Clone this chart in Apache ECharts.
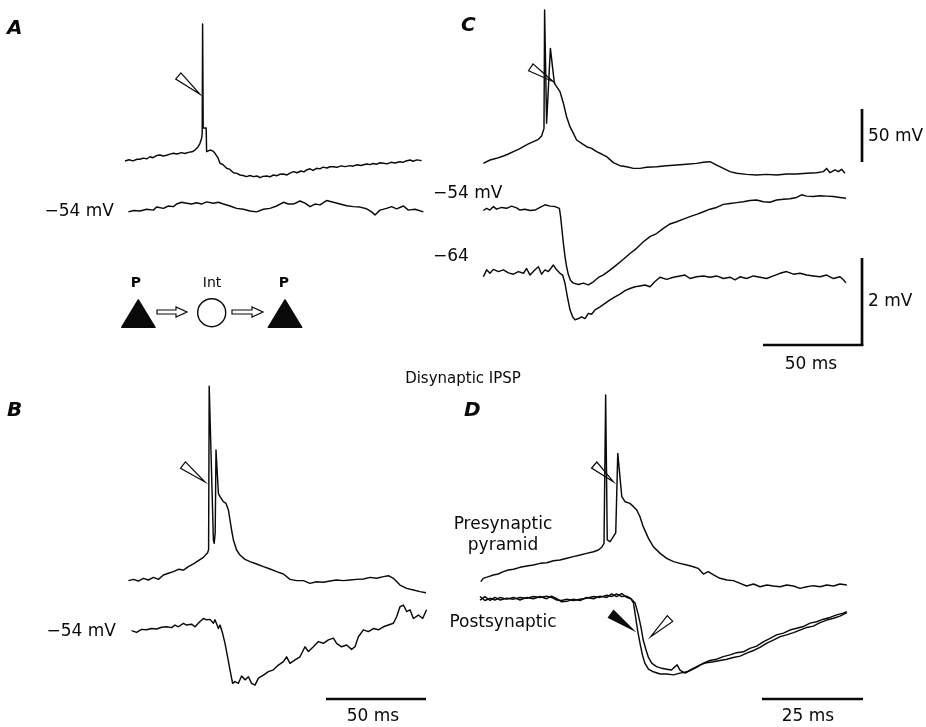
<!DOCTYPE html>
<html><head><meta charset="utf-8">
<script src="https://cdn.jsdelivr.net/npm/echarts@6/dist/echarts.min.js"></script>
<style>html,body{margin:0;padding:0;background:#fff}#c{width:926px;height:727px}</style>
</head><body><div id="c"></div>
<script>
// ---- DATA (time in ms, membrane potential in mV) ----
const A_pre = [[0,-66],[2,-64.8],[4,-65.8],[6,-64.3],[7.5,-64.3],[9,-63.2],[11,-63.8],[12.5,-61.9],[14,-62.8],[16,-60.6],[17.5,-60.2],[19,-61.2],[20.8,-60.5],[22.5,-59.4],[24.2,-58.6],[26,-59.3],[28.3,-58],[30,-58.8],[31.7,-57.7],[33.5,-57.2],[35,-55.5],[36.5,-52.5],[37.5,-49.1],[38.3,-44.3],[38.6,-39.5],[38.8,64.7],[39.1,-34.5],[40.6,-34.5],[40.8,-57.1],[41.5,-56],[42.5,-55.5],[44,-56.5],[45,-58.6],[46.5,-63],[47.5,-68.1],[49,-69.5],[50.8,-72.9],[52.5,-74],[54.2,-77.1],[56,-77.8],[57.5,-79.3],[59,-79.8],[60.8,-80.9],[62.5,-79.8],[64.2,-80.9],[66,-80.2],[67.5,-81.9],[69,-80.6],[70.8,-80.3],[72.5,-81],[74.2,-79.3],[76,-80],[77.5,-78.6],[79.2,-78.4],[81,-79.3],[82.5,-77.5],[84.2,-76.1],[86,-77.2],[88,-75.5],[89.5,-76.3],[90.8,-74.5],[92.5,-73.4],[94,-75],[95.8,-72.9],[97.5,-73.5],[99,-71.8],[101,-72.6],[102.5,-71.4],[104.2,-71.4],[106,-72],[108,-70.6],[110,-71.3],[112.5,-70.4],[114,-70.9],[116,-69.5],[118,-70.3],[120.8,-68.8],[122.5,-69.4],[124,-68.3],[126,-69],[127.5,-67.6],[129.2,-68.1],[131,-68.7],[133,-67.2],[135,-67.9],[137.5,-66.6],[139,-67.3],[140.5,-65.9],[142.5,-65],[144,-66.2],[146,-64.9],[148.3,-65.6]];
const A_post = [[1.7,-54.02],[4.2,-53.99],[7.5,-54.0],[10.8,-53.96],[14.2,-53.98],[15.8,-53.91],[19.2,-53.94],[21.7,-53.885],[24.2,-53.9],[25.8,-53.84],[28.3,-53.80],[30.8,-53.82],[33.3,-53.84],[35.8,-53.81],[38.3,-53.84],[40.8,-53.79],[44.2,-53.82],[46.7,-53.80],[49.2,-53.84],[52.5,-53.885],[55.8,-53.94],[59.2,-53.96],[62.5,-54.0],[65.8,-54.02],[69.2,-53.96],[72.5,-53.94],[75.8,-53.885],[79.2,-53.80],[81.7,-53.84],[84.2,-53.84],[87.5,-53.77],[90,-53.82],[92.5,-53.9],[95,-53.84],[97.5,-53.86],[100.8,-53.76],[104.2,-53.80],[107.5,-53.84],[110.8,-53.88],[114.2,-53.9],[117.5,-53.91],[120.8,-53.95],[123.3,-54.02],[125,-54.09],[127.5,-53.98],[130.8,-53.94],[133.3,-53.9],[135.8,-53.95],[139.2,-53.885],[141.7,-53.98],[145,-53.96],[149.2,-54.02]];
const B_pre = [[1.7,-65.6],[4.2,-64.4],[6.7,-66],[9.2,-63.4],[11.7,-65],[14.2,-62.5],[16.7,-64.4],[19.2,-60.2],[21.7,-58.6],[24.2,-57],[26.7,-54.8],[29.2,-55.5],[31.7,-52.3],[34.2,-49.7],[36.7,-46.6],[39.2,-43.4],[41.3,-39],[41.8,-36],[42.1,120],[44.2,-26.8],[44.6,-30],[45.1,-20],[45.5,59],[46.7,17.7],[47.5,14.5],[49.2,9.7],[50.5,8.1],[51.7,1.8],[52.5,-7.8],[53.3,-17.3],[54.2,-26.8],[55.8,-36.4],[57.5,-41.2],[60,-45.3],[62.5,-47.5],[65.8,-49.7],[69.2,-52.3],[72.5,-54.5],[75.8,-57],[79.2,-59.3],[82.5,-64.4],[85.8,-65.6],[89.2,-65.6],[92.5,-68.2],[95.8,-66.6],[99.2,-67.2],[102.5,-66],[105.8,-65],[109.2,-65.6],[112.5,-65],[115.8,-64.4],[119.2,-64],[122.5,-62.5],[125.8,-63.4],[129.2,-61.8],[131.7,-60.9],[134.2,-63.4],[137.5,-69.8],[140.8,-73],[144.2,-74.5],[147.5,-76.1],[150.5,-77.1]];
const B_post = [[3.3,-53.94],[5.8,-53.98],[8.3,-53.91],[10.8,-53.92],[13.3,-53.89],[15.8,-53.90],[18.3,-53.86],[20.8,-53.85],[23.3,-53.87],[25,-53.81],[26.7,-53.85],[29.2,-53.77],[30.8,-53.81],[33.3,-53.79],[35,-53.85],[37.5,-53.73],[39.2,-53.66],[40.8,-53.69],[42.5,-53.68],[44.2,-53.77],[45,-53.69],[46.7,-53.89],[47.5,-53.81],[48.8,-54.0],[50,-54.23],[51.3,-54.54],[52.5,-54.84],[53.8,-55.15],[55,-55.11],[56.7,-55.15],[58.3,-54.98],[60,-55.07],[61.7,-55.0],[63.3,-55.15],[65,-55.19],[66.7,-55.03],[69.2,-54.96],[71.7,-54.88],[74.2,-54.84],[76.7,-54.73],[79.2,-54.65],[80.8,-54.54],[82.5,-54.69],[85,-54.61],[87.5,-54.54],[90,-54.31],[91.7,-54.42],[94.2,-54.31],[96.7,-54.19],[99.2,-54.23],[101.7,-54.15],[104.2,-54.11],[105.8,-54.23],[108.3,-54.31],[110.8,-54.27],[113.3,-54.37],[115,-54.31],[116.7,-54.08],[119.2,-53.92],[121.7,-53.96],[124.2,-53.89],[126.7,-53.92],[129.2,-53.85],[131.7,-53.81],[134.2,-53.77],[135.8,-53.62],[137.5,-53.39],[139.2,-53.35],[140.8,-53.50],[142.5,-53.46],[144.2,-53.66],[146.7,-53.58],[148.8,-53.66],[150.8,-53.46]];
const C_pre = [[1.7,-68.2],[5,-65],[8.3,-63.4],[11.7,-61.2],[14.2,-59.3],[16.7,-57],[19.2,-54.8],[21.7,-52.3],[24.2,-49.7],[26.7,-47.5],[29.2,-45.3],[30.8,-42.1],[32,-34.8],[32.3,78.1],[33.3,-30],[34.2,-31.6],[35.2,41.5],[37.2,8.1],[38.3,5],[40,0.2],[41.7,-10.9],[43.3,-23.7],[45,-33.2],[46.7,-39.6],[48.3,-45.9],[50.8,-49.1],[53.3,-52.3],[55.8,-53.9],[58.3,-57],[60.8,-59.3],[63.3,-61.8],[66.7,-67.5],[70,-70.4],[73.3,-71.4],[76.7,-73],[80,-73],[83.3,-72],[88.3,-71.4],[93.3,-70.4],[98.3,-69.8],[103.3,-69.1],[108.3,-68.2],[111.7,-67.2],[115,-66.6],[118.3,-69.8],[121.7,-73],[125,-76.1],[128.3,-77.7],[133.3,-78.7],[138.3,-79.3],[143.3,-78.7],[148.3,-79.3],[153.3,-78.4],[158.3,-78.4],[163.3,-77.7],[168.3,-77.1],[171.7,-76.1],[173.3,-73],[175,-77.1],[177.5,-74.5],[179.2,-76.1],[180.8,-73.9],[182.5,-77.7]];
const C_post1 = [[1.7,-54.08],[3.3,-54.03],[5,-54.07],[6.7,-53.99],[8.3,-54.05],[10.8,-54.01],[13.3,-54.03],[15.8,-53.98],[18.3,-54.02],[20,-54.07],[22.5,-54.05],[25,-54.08],[27.5,-54.07],[30,-54.01],[32.5,-53.95],[35,-53.98],[37.5,-53.99],[39.7,-54.03],[40.3,-54.22],[41,-54.53],[41.7,-54.84],[42.5,-55.14],[43.3,-55.37],[44.2,-55.56],[45.3,-55.69],[46.7,-55.75],[49.2,-55.78],[51.7,-55.75],[54.2,-55.79],[56.7,-55.72],[59.2,-55.62],[61.7,-55.56],[65,-55.45],[68.3,-55.33],[71.7,-55.2],[75,-55.07],[78.3,-54.95],[81.7,-54.8],[85,-54.68],[88.3,-54.61],[91.7,-54.49],[95,-54.39],[98.3,-54.34],[101.7,-54.28],[105,-54.22],[108.3,-54.17],[111.7,-54.11],[115,-54.05],[118.3,-54.01],[121.7,-53.94],[125,-53.92],[128.3,-53.9],[131.7,-53.88],[135,-53.85],[138.3,-53.84],[141.7,-53.88],[145,-53.89],[148.3,-53.84],[151.7,-53.82],[155,-53.81],[158.3,-53.78],[160.8,-53.72],[163.3,-53.75],[166.7,-53.76],[170,-53.74],[173.3,-53.75],[176.7,-53.76],[180,-53.78],[183,-53.8]];
const C_post2 = [[1.7,-64.11],[3.3,-63.95],[5,-64.03],[6.7,-63.94],[9.2,-63.99],[11.7,-63.95],[14.2,-64.02],[16.7,-64.05],[19.2,-63.99],[21.7,-64.03],[23.3,-63.92],[25,-64.07],[27.5,-63.95],[29.2,-63.88],[30.8,-64.05],[32.5,-63.95],[34.2,-63.99],[36.7,-63.84],[38.3,-63.95],[40,-64.03],[41.3,-64.07],[42.5,-64.26],[43.7,-64.57],[45,-64.87],[46.3,-65.03],[47.5,-65.1],[49.2,-65.07],[50.8,-65.03],[52.5,-65.07],[54.2,-64.95],[55.8,-64.97],[57.5,-64.87],[60,-64.8],[62.5,-64.72],[65,-64.64],[67.5,-64.57],[70,-64.51],[72.5,-64.43],[75,-64.38],[77.5,-64.34],[80,-64.32],[82.5,-64.3],[85,-64.34],[87.5,-64.22],[90,-64.12],[93.3,-64.17],[96.7,-64.12],[100,-64.09],[102.5,-64.07],[105,-64.15],[108.3,-64.11],[111.7,-64.09],[115,-64.12],[118.3,-64.09],[121.7,-64.15],[125,-64.12],[127.5,-64.18],[130,-64.11],[133.3,-64.15],[136.7,-64.09],[140,-64.12],[143.3,-64.15],[146.7,-64.09],[150,-64.03],[153.3,-63.99],[156.7,-64.05],[160,-64.03],[163.3,-64.07],[166.7,-64.09],[170,-64.11],[173.3,-64.07],[176.7,-64.15],[180,-64.11],[181.7,-64.18],[183,-64.25]];
const D_pre = [[0.2,-66.6],[0.8,-63.4],[2.1,-61.8],[3.3,-60.2],[4.5,-59.3],[5.8,-57],[7,-55.5],[8.3,-54.8],[9.9,-52.9],[11.6,-51.6],[13.2,-50.7],[14.9,-49.1],[16.5,-48.5],[18.2,-46.6],[19.8,-45.9],[21.5,-44.3],[23.1,-42.7],[24.8,-41.2],[26.4,-39.6],[28.1,-38],[29.3,-36.4],[30.1,-33.8],[30.7,-30],[31.1,111.5],[31.5,-26.8],[32.2,-28.4],[33.6,-20],[34.1,55.8],[35.1,14.5],[35.9,9.7],[37.1,8.1],[38,5],[38.8,1.8],[39.6,-4.6],[40.4,-14.1],[41.7,-25.3],[42.9,-33.2],[44.6,-39.6],[46.2,-44.3],[47.9,-47.5],[49.5,-49.1],[51.2,-50.7],[52.8,-52.3],[54,-53.9],[55.3,-59.3],[56.5,-57],[57.8,-60.2],[59.4,-63.4],[61.1,-65],[62.7,-65.6],[64.4,-68.2],[66,-70.7],[67.7,-68.8],[69.3,-71.4],[71,-69.8],[72.6,-70.7],[74.3,-71.4],[75.9,-69.8],[77.6,-70.7],[79.2,-73],[80.9,-71.4],[82.5,-70.4],[84.2,-71.4],[85.8,-69.8],[87.5,-70.7],[89.1,-68.8],[90.8,-69.8]];
const D_post1 = [[0,-54.04],[1.2,-53.96],[2.5,-54.05],[3.7,-53.98],[5,-54.04],[6.6,-54],[8.3,-54.02],[9.9,-53.98],[11.6,-54],[13.2,-53.96],[14.9,-53.98],[16.5,-53.95],[17.7,-53.98],[19,-54.04],[20.2,-54.05],[21.5,-54.02],[23.1,-54.05],[24.8,-54.02],[26.4,-54],[28.1,-53.96],[29.7,-53.98],[31.4,-53.93],[32.6,-53.96],[33.8,-53.9],[35.1,-53.96],[36.3,-53.95],[37.3,-54],[38,-54.11],[38.5,-54.42],[39,-54.73],[39.6,-55.03],[40.2,-55.3],[40.8,-55.49],[41.7,-55.63],[42.9,-55.69],[44.6,-55.74],[46.2,-55.74],[47.9,-55.76],[49.5,-55.72],[51.2,-55.69],[52.8,-55.61],[54.5,-55.53],[56.1,-55.48],[57.8,-55.46],[59.4,-55.43],[61.1,-55.4],[62.7,-55.36],[64.4,-55.33],[66,-55.26],[67.7,-55.2],[69.3,-55.13],[71,-55.03],[72.6,-54.96],[74.3,-54.88],[75.9,-54.84],[77.6,-54.79],[79.2,-54.73],[80.9,-54.67],[82.5,-54.64],[84.2,-54.56],[85.8,-54.5],[87.5,-54.46],[89.1,-54.41],[90.8,-54.33]];
const D_post2 = [[0,-53.96],[1.2,-54.05],[2.5,-54],[3.7,-54.04],[5,-53.98],[6.6,-54.02],[8.3,-53.98],[9.9,-54.04],[11.6,-53.98],[13.2,-54.01],[14.9,-53.96],[16.5,-54.01],[17.7,-53.95],[19,-54.01],[20.2,-54.08],[21.5,-54.07],[23.1,-54.02],[24.8,-54.05],[26.4,-53.98],[28.1,-54.01],[29.7,-53.95],[31.4,-53.98],[32.6,-53.9],[33.8,-53.96],[35.1,-53.89],[36.3,-53.98],[37.5,-54.02],[38.4,-54.11],[39.2,-54.38],[39.9,-54.69],[40.4,-54.96],[41.1,-55.19],[41.7,-55.36],[42.5,-55.49],[43.7,-55.57],[45,-55.61],[46.2,-55.63],[47.4,-55.65],[48.3,-55.57],[48.8,-55.53],[49.5,-55.65],[50.7,-55.72],[52,-55.66],[53.6,-55.59],[55.3,-55.49],[56.9,-55.43],[58.6,-55.4],[60.2,-55.34],[61.9,-55.3],[63.5,-55.25],[65.2,-55.23],[66.8,-55.15],[68.5,-55.1],[70.1,-55],[71.8,-54.92],[73.4,-54.84],[75.1,-54.8],[76.7,-54.73],[78.4,-54.69],[80,-54.65],[81.7,-54.57],[83.3,-54.54],[85,-54.48],[86.6,-54.44],[88.3,-54.38],[89.9,-54.34],[90.8,-54.31]];

// ---- LAYOUT ----
const FONT = '"DejaVu Sans", "Liberation Sans", Arial, sans-serif';
const PRE = 1.048, POST = 43.5;   // px per mV
const traces = [
  // data, x0, px/ms, tMax, yRef, vRef, px/mV, vMin, vMax
  [A_pre,   125, 2,    150, 160,   -65, PRE, -90, 80],
  [A_post,  125, 2,    150, 211,   -54, POST, -55, -53],
  [B_pre,   125, 2,    152, 580,   -65, PRE, -90, 125],
  [B_post,  125, 2,    152, 633.3, -54, POST, -56, -53],
  [C_pre,   480, 2,    185, 160,   -65, PRE, -90, 80],
  [C_post1, 480, 2,    185, 207,   -54, POST, -56.5, -53],
  [C_post2, 480, 2,    185, 272,   -64, POST, -66, -63],
  [D_pre,   480, 4.04, 92,  580,   -65, PRE, -90, 120],
  [D_post1, 480, 4.04, 92,  598.3, -54, POST, -56.5, -53],
  [D_post2, 480, 4.04, 92,  598.3, -54, POST, -56.5, -53]
];
const grids = [], xAxes = [], yAxes = [], series = [];
traces.forEach((t, i) => {
  const [data, x0, pms, tMax, yRef, vRef, pmv, vMin, vMax] = t;
  grids.push({left: x0, width: tMax * pms, top: yRef - (vMax - vRef) * pmv, height: (vMax - vMin) * pmv, containLabel: false});
  xAxes.push({type: 'value', gridIndex: i, min: 0, max: tMax, show: false});
  yAxes.push({type: 'value', gridIndex: i, min: vMin, max: vMax, show: false});
  series.push({type: 'line', xAxisIndex: i, yAxisIndex: i, data: data, symbol: 'none', clip: false,
    lineStyle: {color: '#0a0a0a', width: 1.45, join: 'round'}, silent: true});
});

function txt(text, x, y, size, opts) {
  opts = opts || {};
  return {type: 'text', silent: true, style: {text: text, x: x, y: y, fill: '#0a0a0a',
    font: (opts.style || 'normal') + ' ' + (opts.weight || 'normal') + ' ' + size + 'px ' + FONT,
    align: opts.align || 'left', verticalAlign: 'middle', textAlign: opts.align || 'left', textVerticalAlign: 'middle'}};
}
function wedge(bx1, by1, bx2, by2, tx, ty, filled) {
  return {type: 'polygon', silent: true, shape: {points: [[bx1, by1], [bx2, by2], [tx, ty]]},
    style: {fill: filled ? '#0a0a0a' : '#fff', stroke: '#0a0a0a', lineWidth: 1.2}};
}
function bar(x1, y1, x2, y2, w) {
  return {type: 'line', silent: true, shape: {x1: x1, y1: y1, x2: x2, y2: y2}, style: {stroke: '#0a0a0a', lineWidth: w || 2.7}};
}
function blockArrow(x1, x2, y) {
  const h = x2 - 11;
  return {type: 'polygon', silent: true, shape: {points: [[x1, y - 2], [h, y - 2], [h, y - 5], [x2, y], [h, y + 5], [h, y + 2], [x1, y + 2]]},
    style: {fill: '#fff', stroke: '#0a0a0a', lineWidth: 1.2}};
}
const graphics = [
  txt('A', 7, 29, 20, {style: 'italic', weight: 'bold'}),
  txt('B', 7, 411, 20, {style: 'italic', weight: 'bold'}),
  txt('C', 461, 26, 20, {style: 'italic', weight: 'bold'}),
  txt('D', 464, 411, 20, {style: 'italic', weight: 'bold'}),
  txt('\u221254 mV', 114, 212, 17, {align: 'right'}),
  txt('\u221254 mV', 116, 632, 17, {align: 'right'}),
  txt('\u221254 mV', 433, 194, 17),
  txt('\u221264', 433, 257, 17),
  txt('50 mV', 868, 137, 17),
  txt('2 mV', 868, 302, 17),
  txt('50 ms', 811, 365, 17, {align: 'center'}),
  txt('50 ms', 373, 717, 17, {align: 'center'}),
  txt('25 ms', 808, 717, 17, {align: 'center'}),
  txt('Disynaptic IPSP', 463, 379, 15, {align: 'center'}),
  txt('Presynaptic', 503, 525, 17, {align: 'center'}),
  txt('pyramid', 503, 546, 17, {align: 'center'}),
  txt('Postsynaptic', 503, 623, 17, {align: 'center'}),
  txt('P', 136, 283, 14, {align: 'center', weight: 'bold'}),
  txt('Int', 212, 283, 14, {align: 'center'}),
  txt('P', 284, 283, 14, {align: 'center', weight: 'bold'}),
  bar(862, 109, 862, 162),
  bar(862, 258, 862, 346),
  bar(763, 345, 863.3, 345),
  bar(326, 699, 426, 699),
  bar(762, 699, 863, 699),
  wedge(175.7, 79.1, 180.9, 72.9, 200, 94.3, false),
  wedge(180.6, 468.2, 185.4, 461.8, 205, 482, false),
  wedge(528.6, 70.7, 533, 63.9, 553.3, 81.7, false),
  wedge(591.6, 468, 596.8, 462, 613.3, 481.7, false),
  wedge(608.4, 617.6, 613.6, 610.4, 633.3, 630, true),
  wedge(667.3, 615.6, 672.7, 621.4, 650.7, 636.7, false),
  {type: 'polygon', silent: true, shape: {points: [[138.3, 300], [155, 327.3], [121.7, 327.3]]}, style: {fill: '#0a0a0a', stroke: '#0a0a0a', lineWidth: 1.5, lineJoin: 'round'}},
  {type: 'polygon', silent: true, shape: {points: [[285, 300], [301.7, 327.3], [268.3, 327.3]]}, style: {fill: '#0a0a0a', stroke: '#0a0a0a', lineWidth: 1.5, lineJoin: 'round'}},
  {type: 'circle', silent: true, shape: {cx: 211.7, cy: 312.7, r: 14}, style: {fill: '#fff', stroke: '#0a0a0a', lineWidth: 1.4}},
  blockArrow(157, 187, 312),
  blockArrow(232, 263, 312)
];

const chart = echarts.init(document.getElementById('c'), null, {renderer: 'canvas'});
chart.setOption({
  animation: false,
  backgroundColor: '#fff',
  grid: grids, xAxis: xAxes, yAxis: yAxes, series: series,
  graphic: graphics
});
</script></body></html>
